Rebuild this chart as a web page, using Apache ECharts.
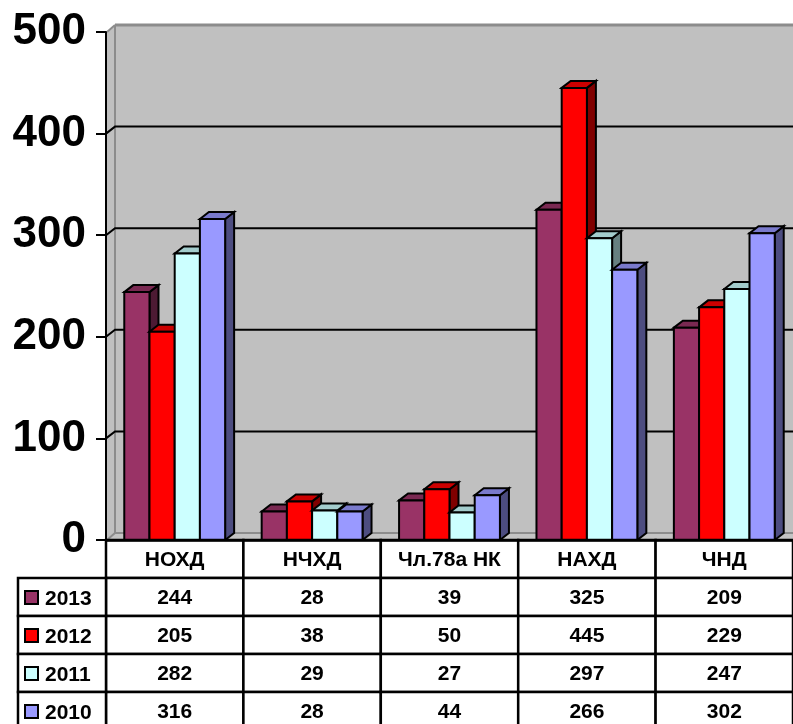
<!DOCTYPE html>
<html>
<head>
<meta charset="utf-8">
<script src="https://cdn.jsdelivr.net/npm/echarts@6/dist/echarts.min.js"></script>
<style>
  html, body { margin: 0; padding: 0; background: #fff; }
  #main { width: 793px; height: 724px; }
</style>
</head>
<body>
<div id="main"></div>
<script>
// data
const categories = ['НОХД', 'НЧХД', 'Чл.78а НК', 'НАХД', 'ЧНД'];
const years = ['2013', '2012', '2011', '2010'];
const v2013 = [244, 28, 39, 325, 209];
const v2012 = [205, 38, 50, 445, 229];
const v2011 = [282, 29, 27, 297, 247];
const v2010 = [316, 28, 44, 266, 302];
const yTicks = [0, 100, 200, 300, 400, 500];

const seriesVals = [v2013, v2012, v2011, v2010];
const colors = ['#993366', '#ff0000', '#ccffff', '#9999ff'];
const topColors = ['#7a2952', '#cc0000', '#a3cccc', '#7a7acc'];
const sideColors = ['#4d1a33', '#800000', '#668080', '#4d4d80'];

const DX = 9, DY = 7;      // depth of the 3d look
const ROW_H = 38;
const FONT = 'bold 21px "Liberation Sans", Arial, sans-serif';

const chart = echarts.init(document.getElementById('main'), null, { renderer: 'canvas' });

// back wall, side wall, floor and gridlines
function renderWalls(params, api) {
  const x0 = api.coord([0, 0])[0] - api.size([1, 0])[0] / 2;
  const right = 800;
  const yTop = api.coord([0, 500])[1];
  const yBase = api.coord([0, 0])[1];
  const kids = [];
  // side wall
  kids.push({ type: 'polygon', shape: { points: [[x0 + 1, yTop], [x0 + DX, yTop - DY], [x0 + DX, yBase - DY], [x0 + 1, yBase]] },
    style: { fill: '#c0c0c0', stroke: null } });
  // back wall
  kids.push({ type: 'rect', shape: { x: x0 + DX, y: yTop - DY, width: right - x0, height: yBase - yTop },
    style: { fill: '#c0c0c0' } });
  // floor
  kids.push({ type: 'polygon', shape: { points: [[x0 + 1, yBase], [x0 + DX, yBase - DY], [right, yBase - DY], [right, yBase]] },
    style: { fill: '#c4c4c4' } });
  kids.push({ type: 'line', shape: { x1: x0 + DX, y1: yBase - DY, x2: right, y2: yBase - DY }, style: { stroke: '#8c8c8c', lineWidth: 2 } });
  kids.push({ type: 'line', shape: { x1: x0 + 1, y1: yBase, x2: x0 + DX, y2: yBase - DY }, style: { stroke: '#8c8c8c', lineWidth: 2 } });
  // wall edges
  kids.push({ type: 'line', shape: { x1: x0 + DX, y1: yTop - DY, x2: x0 + DX, y2: yBase - DY }, style: { stroke: '#8c8c8c', lineWidth: 2 } });
  kids.push({ type: 'line', shape: { x1: x0 + DX, y1: yTop - DY, x2: right, y2: yTop - DY }, style: { stroke: '#8c8c8c', lineWidth: 3 } });
  kids.push({ type: 'line', shape: { x1: x0 + 1, y1: yTop, x2: x0 + DX, y2: yTop - DY }, style: { stroke: '#8c8c8c', lineWidth: 2 } });
  // gridlines
  yTicks.forEach(function (t) {
    if (t === 0 || t === 500) return;
    const y = api.coord([0, t])[1];
    kids.push({ type: 'polyline', shape: { points: [[x0, y], [x0 + DX, y - DY], [right, y - DY]] },
      style: { stroke: '#000', lineWidth: 2, fill: null } });
  });
  return { type: 'group', children: kids };
}

function barRenderer(si) {
  return function (params, api) {
    const c = api.coord([api.value(0), api.value(1)]);
    const base = api.coord([api.value(0), 0]);
    const band = api.size([1, 0])[0];
    const bw = band * 0.1835;
    const x = c[0] + (si - 2) * bw;
    const y = c[1], yb = base[1];
    const st = { stroke: '#000', lineWidth: 2, lineJoin: 'miter' };
    return {
      type: 'group',
      children: [
        { type: 'polygon', shape: { points: [[x + bw, y], [x + bw + DX, y - DY], [x + bw + DX, yb - DY], [x + bw, yb]] },
          style: Object.assign({ fill: sideColors[si] }, st) },
        { type: 'polygon', shape: { points: [[x, y], [x + DX, y - DY], [x + bw + DX, y - DY], [x + bw, y]] },
          style: Object.assign({ fill: topColors[si] }, st) },
        { type: 'rect', shape: { x: x, y: y, width: bw, height: yb - y },
          style: Object.assign({ fill: colors[si] }, st) }
      ]
    };
  };
}

// data table under the plot, one column per category
function renderTableColumn(params, api) {
  const i = api.value(0);
  const band = api.size([1, 0])[0];
  const cx = api.coord([i, 0])[0];
  const top = api.coord([i, 0])[1];
  const x0 = cx - band / 2;
  const kids = [];
  kids.push({ type: 'rect', shape: { x: x0, y: top, width: band, height: ROW_H },
    style: { fill: '#fff', stroke: '#000', lineWidth: 2.5 } });
  kids.push({ type: 'text', style: { text: categories[i], x: cx, y: top + ROW_H / 2 + 1, align: 'center', verticalAlign: 'middle', font: FONT, fill: '#000' } });
  for (let r = 0; r < years.length; r++) {
    const y = top + ROW_H * (r + 1);
    kids.push({ type: 'rect', shape: { x: x0, y: y, width: band, height: ROW_H },
      style: { fill: '#fff', stroke: '#000', lineWidth: 2.5 } });
    kids.push({ type: 'text', style: { text: String(api.value(r + 1)), x: cx, y: y + ROW_H / 2 + 1, align: 'center', verticalAlign: 'middle', font: FONT, fill: '#000' } });
  }
  return { type: 'group', children: kids };
}

function renderLegendCell(params, api) {
  const r = api.value(0);
  const band = api.size([1, 0])[0];
  const p = api.coord([0, 0]);
  const xr = p[0] - band / 2;
  const xl = 18;
  const y = p[1] + ROW_H * (r + 1);
  return {
    type: 'group',
    children: [
      { type: 'rect', shape: { x: xl, y: y, width: xr - xl, height: ROW_H }, style: { fill: '#fff', stroke: '#000', lineWidth: 2.5 } },
      { type: 'rect', shape: { x: 25, y: y + ROW_H / 2 - 6, width: 13, height: 13 }, style: { fill: colors[r], stroke: '#000', lineWidth: 2 } },
      { type: 'text', style: { text: years[r], x: 45, y: y + ROW_H / 2 + 2, align: 'left', verticalAlign: 'middle', font: FONT, fill: '#000' } }
    ]
  };
}

const series = [
  { type: 'custom', name: 'walls', z: 1, silent: true, renderItem: renderWalls, data: [[0, 0]] }
];
seriesVals.forEach(function (vals, si) {
  series.push({
    type: 'custom',
    name: years[si],
    z: 2,
    renderItem: barRenderer(si),
    data: vals.map(function (v, i) { return [i, v]; })
  });
});
series.push({
  type: 'custom', name: 'table', z: 3, silent: true, renderItem: renderTableColumn,
  data: categories.map(function (c, i) { return [i, v2013[i], v2012[i], v2011[i], v2010[i]]; })
});
series.push({
  type: 'custom', name: 'legend', z: 3, silent: true, renderItem: renderLegendCell,
  data: years.map(function (y, r) { return [r]; })
});

const option = {
  animation: false,
  backgroundColor: '#fff',
  grid: { left: 106, top: 32, width: 689, height: 508 },
  xAxis: {
    type: 'category',
    data: categories,
    z: 5,
    axisLine: { lineStyle: { color: '#000', width: 2.5 } },
    axisTick: { show: false },
    axisLabel: { show: false },
    splitLine: { show: false }
  },
  yAxis: {
    type: 'value',
    min: 0,
    max: 500,
    interval: 100,
    z: 5,
    axisLine: { show: true, lineStyle: { color: '#000', width: 2 } },
    axisTick: { show: true, length: 10, lineStyle: { color: '#000', width: 2 } },
    axisLabel: {
      margin: 20,
      color: '#000',
      fontSize: 44,
      fontWeight: 'bold',
      fontFamily: '"Liberation Sans", Arial, sans-serif'
    },
    splitLine: { show: false }
  },
  series: series
};

chart.setOption(option);
</script>
</body>
</html>
